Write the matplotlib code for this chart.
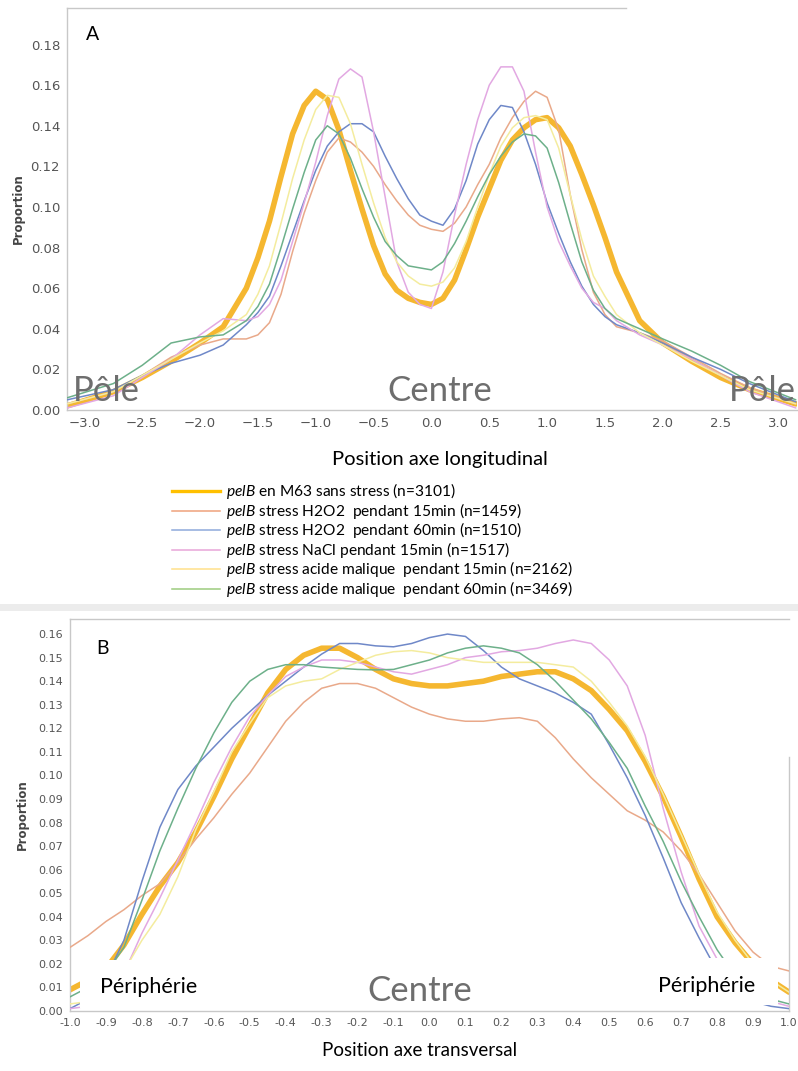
import matplotlib
matplotlib.use("Agg")
import matplotlib.pyplot as plt
from matplotlib.lines import Line2D
from matplotlib.patches import Rectangle

# ---- Panel A : position axe longitudinal ----
xa = [-3.15, -2.75, -2.5, -2.25, -2.0, -1.8, -1.6, -1.5, -1.4, -1.3, -1.2, -1.1,
      -1.0, -0.9, -0.8, -0.7, -0.6, -0.5, -0.4, -0.3, -0.2, -0.1, 0.0, 0.1, 0.2,
      0.3, 0.4, 0.5, 0.6, 0.7, 0.8, 0.9, 1.0, 1.1, 1.2, 1.3, 1.4, 1.5, 1.6, 1.8,
      2.0, 2.25, 2.5, 2.75, 3.15]
a_m63 = [0.002, 0.009, 0.016, 0.024, 0.033, 0.041, 0.060, 0.075, 0.093, 0.115, 0.136, 0.150,
         0.157, 0.153, 0.138, 0.118, 0.099, 0.081, 0.067, 0.059, 0.055, 0.053, 0.052, 0.055, 0.064,
         0.079, 0.095, 0.109, 0.123, 0.133, 0.139, 0.143, 0.144, 0.139, 0.130, 0.116, 0.101, 0.085, 0.068, 0.044,
         0.033, 0.024, 0.016, 0.010, 0.003]
a_h2o2_15 = [0.003, 0.009, 0.017, 0.026, 0.032, 0.035, 0.035, 0.037, 0.043, 0.057, 0.078, 0.097,
             0.113, 0.127, 0.134, 0.132, 0.127, 0.120, 0.111, 0.103, 0.096, 0.091, 0.089, 0.088, 0.092,
             0.100, 0.111, 0.121, 0.134, 0.144, 0.152, 0.157, 0.154, 0.138, 0.106, 0.079, 0.058, 0.047, 0.041, 0.038,
             0.034, 0.026, 0.018, 0.011, 0.003]
a_h2o2_60 = [0.005, 0.010, 0.017, 0.023, 0.027, 0.032, 0.042, 0.048, 0.056, 0.071, 0.087, 0.103,
             0.118, 0.130, 0.137, 0.141, 0.141, 0.137, 0.125, 0.114, 0.104, 0.096, 0.093, 0.091, 0.099,
             0.113, 0.131, 0.143, 0.150, 0.149, 0.137, 0.121, 0.102, 0.087, 0.073, 0.061, 0.052, 0.046, 0.042, 0.038,
             0.033, 0.026, 0.020, 0.013, 0.004]
a_nacl_15 = [0.001, 0.007, 0.016, 0.025, 0.037, 0.045, 0.044, 0.046, 0.052, 0.064, 0.083, 0.102,
             0.122, 0.145, 0.163, 0.168, 0.164, 0.137, 0.105, 0.073, 0.058, 0.052, 0.050, 0.068, 0.096,
             0.121, 0.143, 0.160, 0.169, 0.169, 0.157, 0.127, 0.100, 0.083, 0.071, 0.060, 0.053, 0.050, 0.044, 0.037,
             0.032, 0.025, 0.017, 0.009, 0.001]
a_mal_15 = [0.003, 0.009, 0.017, 0.025, 0.033, 0.039, 0.047, 0.057, 0.071, 0.092, 0.114, 0.133,
            0.148, 0.155, 0.154, 0.141, 0.121, 0.102, 0.085, 0.073, 0.066, 0.062, 0.061, 0.063, 0.070,
            0.083, 0.100, 0.116, 0.130, 0.139, 0.144, 0.145, 0.143, 0.129, 0.106, 0.084, 0.066, 0.056, 0.047, 0.038,
            0.032, 0.024, 0.017, 0.010, 0.003]
a_mal_60 = [0.006, 0.013, 0.022, 0.033, 0.036, 0.037, 0.044, 0.051, 0.062, 0.080, 0.099, 0.117,
            0.133, 0.140, 0.136, 0.124, 0.109, 0.095, 0.083, 0.076, 0.071, 0.070, 0.069, 0.073, 0.082,
            0.093, 0.105, 0.116, 0.125, 0.132, 0.136, 0.135, 0.129, 0.112, 0.092, 0.073, 0.059, 0.050, 0.045, 0.040,
            0.035, 0.029, 0.022, 0.014, 0.005]

# ---- Panel B : position axe transversal ----
xb = [-1.0, -0.95, -0.9, -0.85, -0.8, -0.75, -0.7, -0.65, -0.6, -0.55, -0.5, -0.45, -0.4, -0.35,
      -0.3, -0.25, -0.2, -0.15, -0.1, -0.05, 0.0, 0.05, 0.1, 0.15, 0.2, 0.25, 0.3, 0.35, 0.4,
      0.45, 0.5, 0.55, 0.6, 0.65, 0.7, 0.75, 0.8, 0.85, 0.9, 0.95, 1.0]
b_m63 = [0.009, 0.013, 0.018, 0.028, 0.041, 0.053, 0.063, 0.076, 0.091, 0.107, 0.121, 0.135, 0.145, 0.151,
         0.154, 0.154, 0.150, 0.145, 0.141, 0.139, 0.138, 0.138, 0.139, 0.140, 0.142, 0.143, 0.144, 0.144, 0.141,
         0.136, 0.128, 0.119, 0.106, 0.091, 0.074, 0.056, 0.040, 0.029, 0.020, 0.013, 0.008]
b_h2o2_15 = [0.027, 0.032, 0.038, 0.043, 0.049, 0.054, 0.063, 0.073, 0.082, 0.092, 0.101, 0.112, 0.123, 0.131,
             0.137, 0.139, 0.139, 0.137, 0.133, 0.129, 0.126, 0.124, 0.123, 0.123, 0.124, 0.1245, 0.123, 0.116, 0.107,
             0.099, 0.092, 0.085, 0.081, 0.076, 0.068, 0.058, 0.046, 0.034, 0.025, 0.019, 0.017]
b_h2o2_60 = [0.001, 0.005, 0.014, 0.030, 0.055, 0.078, 0.094, 0.104, 0.112, 0.120, 0.127, 0.134, 0.140, 0.146,
             0.1515, 0.156, 0.156, 0.155, 0.1546, 0.156, 0.1585, 0.160, 0.159, 0.153, 0.146, 0.141, 0.138, 0.135, 0.131,
             0.126, 0.113, 0.099, 0.083, 0.065, 0.046, 0.031, 0.017, 0.009, 0.004, 0.002, 0.001]
b_nacl_15 = [0.001, 0.002, 0.006, 0.016, 0.033, 0.048, 0.064, 0.080, 0.097, 0.112, 0.125, 0.134, 0.142, 0.146,
             0.149, 0.149, 0.148, 0.146, 0.144, 0.143, 0.145, 0.147, 0.150, 0.151, 0.1525, 0.153, 0.154, 0.156, 0.1575,
             0.156, 0.149, 0.138, 0.117, 0.086, 0.059, 0.036, 0.022, 0.012, 0.007, 0.004, 0.002]
b_mal_15 = [0.003, 0.004, 0.007, 0.017, 0.030, 0.041, 0.057, 0.077, 0.093, 0.110, 0.122, 0.133, 0.138, 0.140,
            0.141, 0.145, 0.148, 0.151, 0.1525, 0.153, 0.152, 0.150, 0.149, 0.148, 0.148, 0.148, 0.148, 0.147, 0.146,
            0.140, 0.131, 0.121, 0.108, 0.092, 0.075, 0.058, 0.042, 0.030, 0.020, 0.013, 0.008]
b_mal_60 = [0.006, 0.010, 0.016, 0.027, 0.047, 0.068, 0.086, 0.103, 0.118, 0.131, 0.140, 0.145, 0.147, 0.147,
            0.146, 0.1455, 0.145, 0.1448, 0.145, 0.147, 0.149, 0.152, 0.154, 0.155, 0.154, 0.152, 0.147, 0.140, 0.132,
            0.124, 0.114, 0.103, 0.087, 0.072, 0.055, 0.040, 0.026, 0.015, 0.009, 0.005, 0.003]

labels = [r"$\mathit{pelB}$ en M63 sans stress (n=3101)",
          r"$\mathit{pelB}$ stress H2O2  pendant 15min (n=1459)",
          r"$\mathit{pelB}$ stress H2O2  pendant 60min (n=1510)",
          r"$\mathit{pelB}$ stress NaCl pendant 15min (n=1517)",
          r"$\mathit{pelB}$ stress acide malique  pendant 15min (n=2162)",
          r"$\mathit{pelB}$ stress acide malique  pendant 60min (n=3469)"]

# couleurs des courbes (un peu pâles, comme sur la figure d'origine)
line_colors = ["#F5B730", "#E9A98A", "#6F88C8", "#E2A8E2", "#F4EC9E", "#6DB08A"]
legend_colors = ["#FFC000", "#EFA27C", "#8EA9DB", "#E8A6D8", "#FFE08A", "#9CCB7E"]
widths = [4.0, 1.1, 1.1, 1.1, 1.1, 1.1]

plt.rcParams["mathtext.fontset"] = "custom"
plt.rcParams["mathtext.it"] = "Lato:italic"
plt.rcParams["mathtext.rm"] = "Lato"

fig = plt.figure(figsize=(7.98, 10.71), dpi=100)

W, H = 798.0, 1071.0
axA = fig.add_axes([67 / W, 1 - 410 / H, 730 / W, 402 / H])
axB = fig.add_axes([70 / W, 1 - 1011 / H, 719 / W, 392 / H])


def style(ax, size):
    for s in ax.spines.values():
        s.set_color("#c8c8c8")
        s.set_linewidth(1.0)
    ax.tick_params(length=0, pad=5, labelsize=size, labelcolor="#555555")
    ax.set_ylabel("Proportion", fontsize=8.5, color="#444444", fontweight="bold")


seriesA = [a_m63, a_h2o2_15, a_h2o2_60, a_nacl_15, a_mal_15, a_mal_60]
for i, ys in enumerate(seriesA):
    axA.plot(xa, ys, color=line_colors[i], lw=widths[i], solid_capstyle="round", zorder=2 if i == 0 else 3)
axA.set_xlim(-3.15, 3.16)
axA.set_ylim(0, 0.198)
axA.set_xticks([-3.0, -2.5, -2.0, -1.5, -1.0, -0.5, 0.0, 0.5, 1.0, 1.5, 2.0, 2.5, 3.0])
axA.set_yticks([0.00, 0.02, 0.04, 0.06, 0.08, 0.10, 0.12, 0.14, 0.16, 0.18])
axA.yaxis.set_major_formatter(plt.FormatStrFormatter("%.2f"))
style(axA, 9.5)
axA.yaxis.set_label_coords((25 - 67) / 730, 0.5)
axA.spines["right"].set_visible(False)
axA.spines["top"].set_bounds(-3.15, 1.68)
fig.text(86 / W, 1 - 40 / H, "A", fontsize=14, family="Lato", color="black")

big = dict(fontsize=25, family="Lato", color="#6e6e6e", va="baseline", zorder=4)
axA.text(0.008, 0.022, "Pôle", transform=axA.transAxes, ha="left", **big)
axA.text(0.511, 0.022, "Centre", transform=axA.transAxes, ha="center", **big)
axA.text(0.998, 0.022, "Pôle", transform=axA.transAxes, ha="right", **big)
fig.text(440 / W, 1 - 460 / H, "Position axe longitudinal", ha="center", va="center",
         fontsize=14.5, family="Lato", color="black")

# légende dessinée à la main
for i, lab in enumerate(labels):
    y = 1 - (491 + i * 19.6) / H
    fig.add_artist(Line2D([172 / W, 220 / W], [y, y], color=legend_colors[i],
                          lw=2.4 if i == 0 else 1.1))
    fig.text(226 / W, y, lab, va="center", fontsize=11.2, family="Lato", color="black")

# bande grise de séparation
fig.add_artist(Rectangle((0, 1 - 611 / H), 1, 7 / H, transform=fig.transFigure,
                         color="#ececec", lw=0))

seriesB = [b_m63, b_h2o2_15, b_h2o2_60, b_nacl_15, b_mal_15, b_mal_60]
for i, ys in enumerate(seriesB):
    axB.plot(xb, ys, color=line_colors[i], lw=widths[i], solid_capstyle="round", zorder=2 if i == 0 else 3)
axB.set_xlim(-1.0, 1.0)
axB.set_ylim(0, 0.1664)
axB.set_xticks([round(-1.0 + 0.1 * k, 1) for k in range(21)])
axB.set_yticks([round(0.01 * k, 2) for k in range(17)])
axB.xaxis.set_major_formatter(plt.FormatStrFormatter("%.1f"))
axB.yaxis.set_major_formatter(plt.FormatStrFormatter("%.2f"))
style(axB, 8)
axB.yaxis.set_label_coords((29 - 70) / 719, 0.5)
axB.spines["right"].set_bounds(0, 0.108)
fig.text(96 / W, 1 - 654 / H, "B", fontsize=14, family="Lato", color="black")

axB.add_patch(Rectangle((0.014, 0.008), 0.19, 0.122, transform=axB.transAxes,
                        facecolor="white", edgecolor="none", zorder=5))
axB.add_patch(Rectangle((0.793, 0.015), 0.192, 0.12, transform=axB.transAxes,
                        facecolor="white", edgecolor="none", zorder=5))
axB.text(0.042, 0.046, "Périphérie", transform=axB.transAxes, fontsize=15.5, family="Lato",
         color="black", va="baseline", zorder=6)
axB.text(0.818, 0.048, "Périphérie", transform=axB.transAxes, fontsize=15.5, family="Lato",
         color="black", va="baseline", zorder=6)
axB.text(0.487, 0.026, "Centre", transform=axB.transAxes, ha="center", **big)
fig.text(420 / W, 1 - 1051 / H, "Position axe transversal", ha="center", va="center",
         fontsize=13.5, family="Lato", color="black")

fig.savefig("out.png", dpi=100)
